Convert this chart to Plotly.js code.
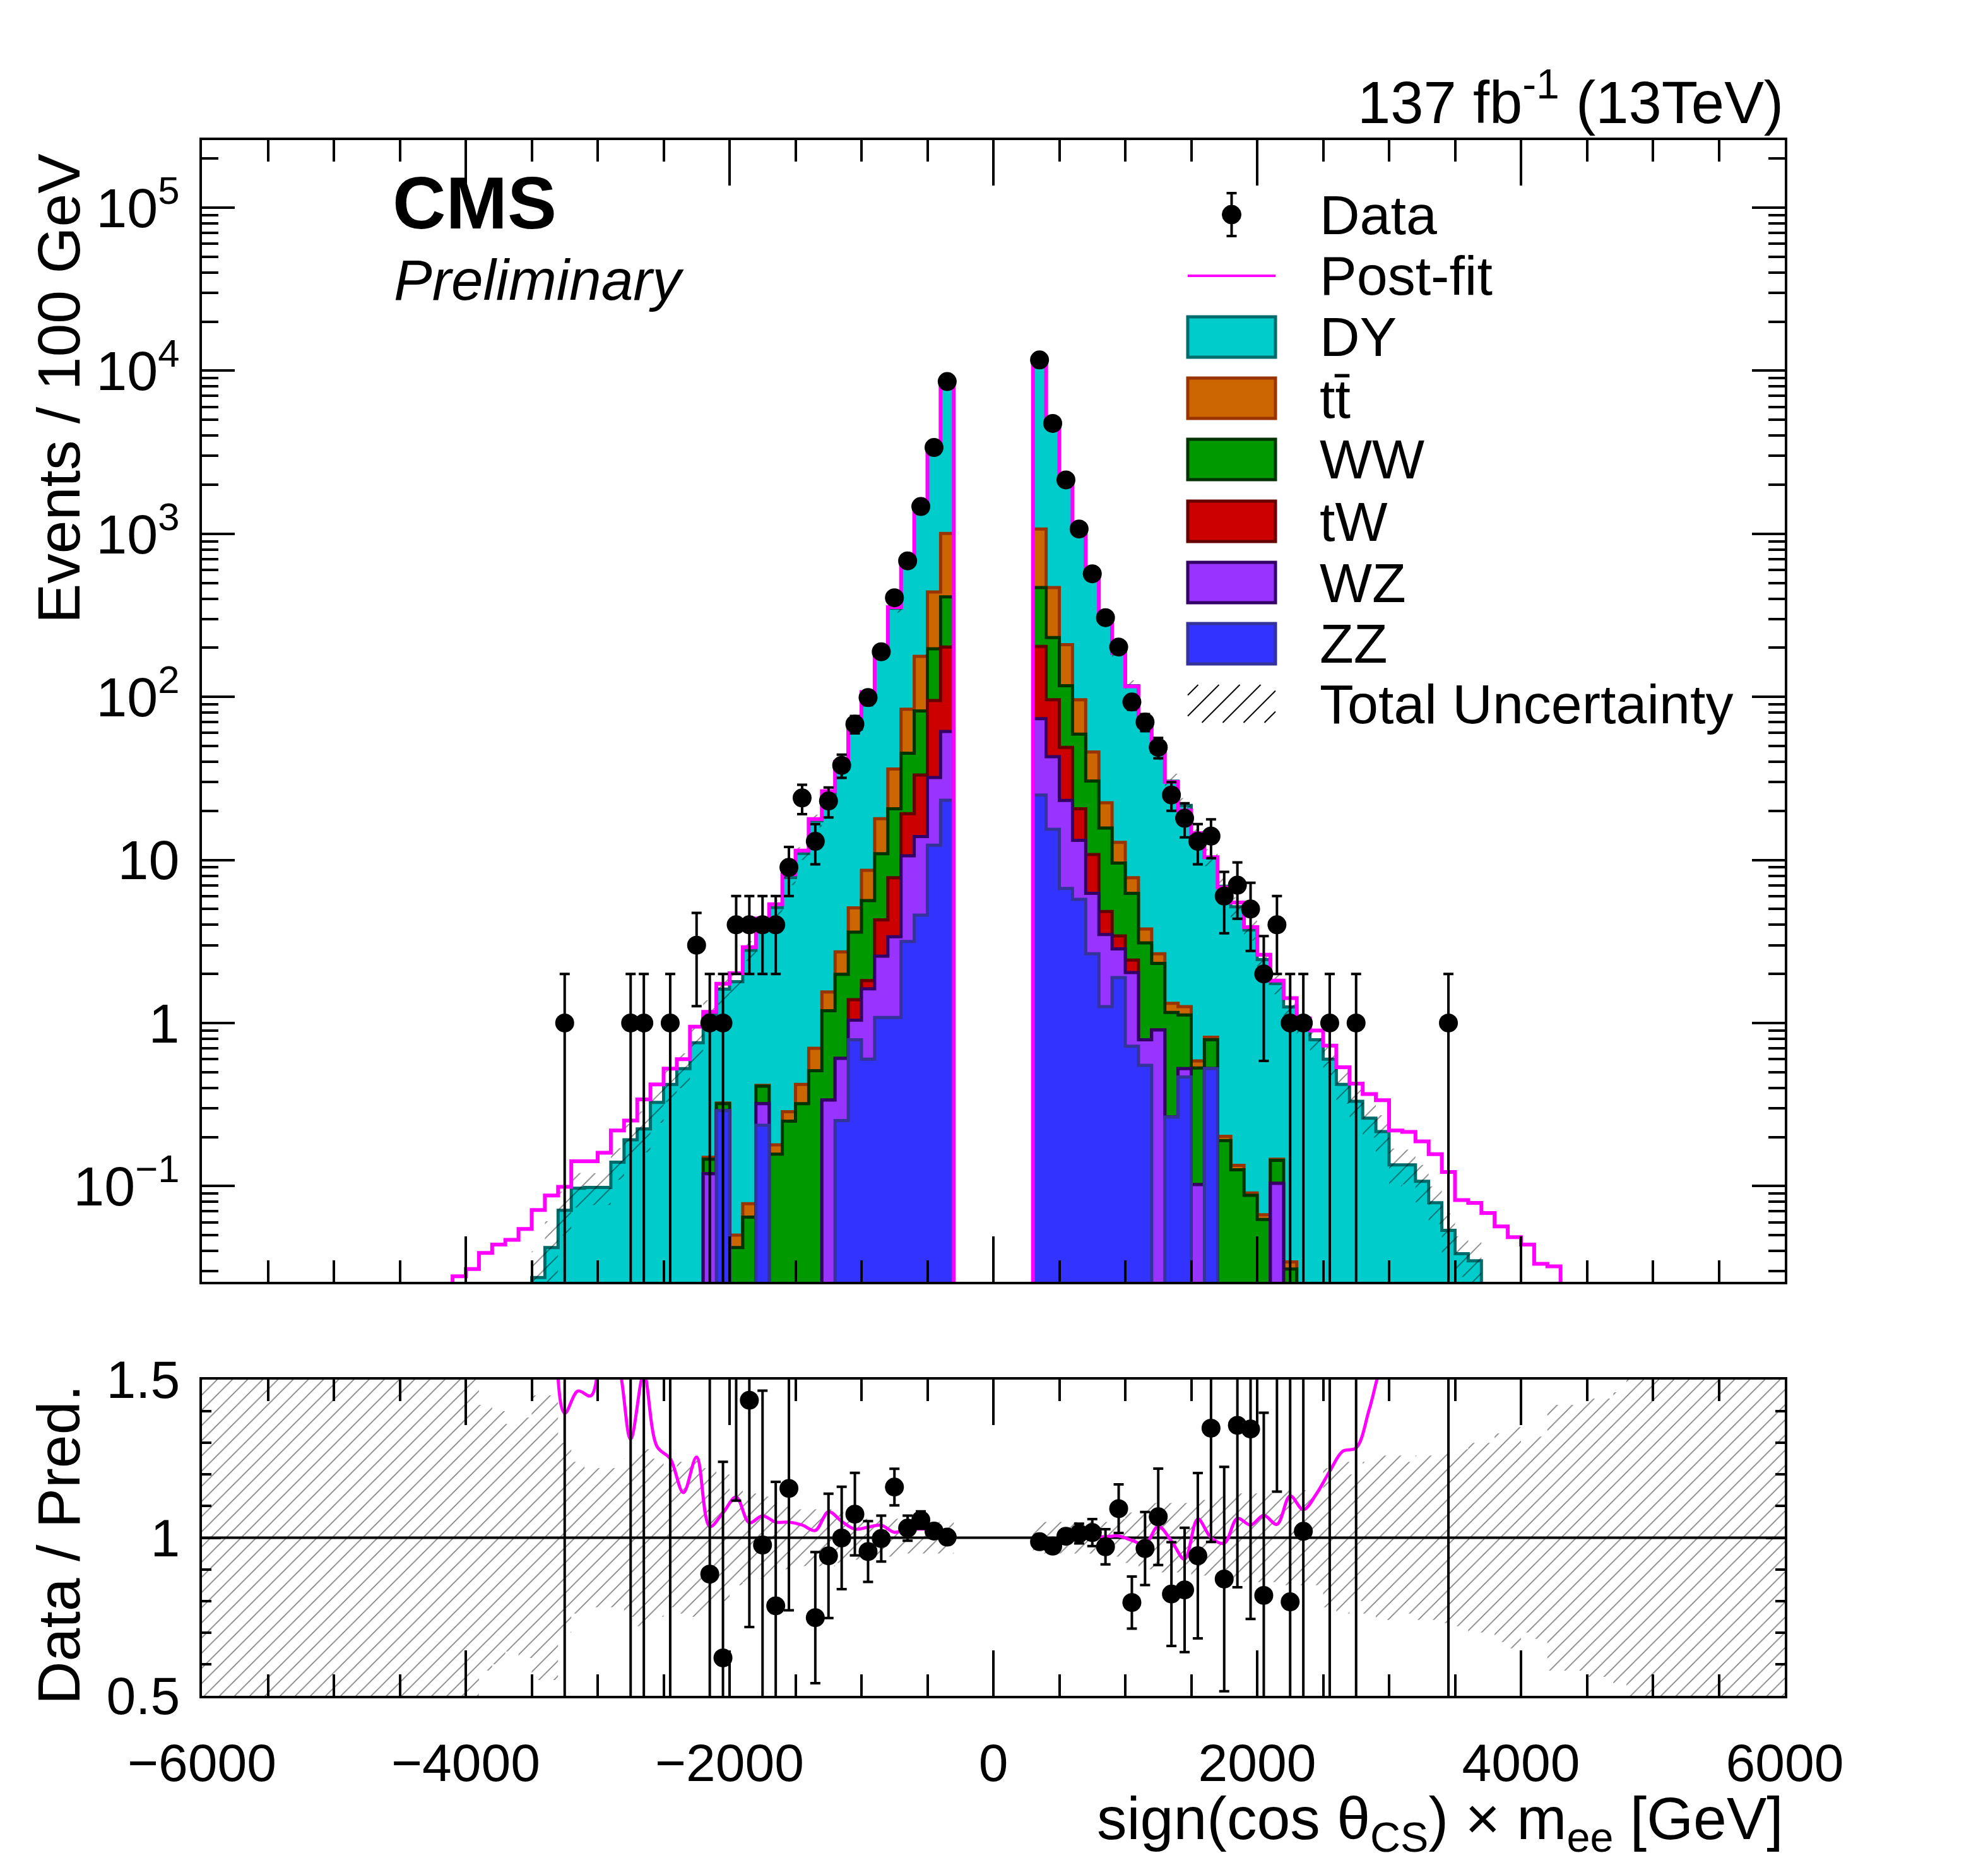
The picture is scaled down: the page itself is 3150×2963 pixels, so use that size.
<!DOCTYPE html>
<html>
<head>
<meta charset="utf-8">
<script src="https://cdn.plot.ly/plotly-3.0.1.min.js"></script>
<style>
    html, body { margin: 0; padding: 0; background: #ffffff; }
    #myDiv { width: 3150px; height: 2963px; }
</style>
</head>
<body>
<div id="myDiv"></div>
<script>
// histogram bins: 100 GeV wide, first edge at -4200 GeV (85 bins up to 4300)
var BIN_START = -4200;
var BIN_WIDTH = 100;

var dy = [
    0, 0, 0, 0, 0, 0, 0, 0.0275, 0.042, 0.071,
    0.097, 0.098, 0.098, 0.14, 0.192, 0.224, 0.326, 0.42, 0.525, 0.757,
    0.98, 1.29, 1.74, 2.71, 3.68, 4.92, 7.5, 10.54, 16.7, 22.85,
    35.3, 58.2, 94.9, 171.6, 313, 578, 1215, 2870, 7560, 0,
    0, 0, 0, 0, 0, 10720, 4412, 1921, 960, 513,
    292.6, 172.2, 109.2, 68.7, 43.3, 29.1, 20.3, 13.2, 9.58, 6.7,
    5.03, 3.63, 2.38, 1.6, 1.22, 0.98, 0.79, 0.6, 0.42, 0.331,
    0.261, 0.216, 0.135, 0.135, 0.107, 0.079, 0.0535, 0.0385, 0.0348, 0,
    0, 0, 0, 0, 0
];
var ttbar = [
    0, 0, 0, 0, 0, 0, 0, 0, 0, 0,
    0, 0, 0, 0, 0, 0, 0, 0, 0, 0,
    0.004, 0.003, 0.008, 0.0135, 0.005, 0.022, 0.036, 0.1, 0.19, 0.36,
    0.74, 1.47, 3.0, 7.0, 15.5, 38.9, 95, 243, 595, 0,
    0, 0, 0, 0, 0, 602, 237, 92, 37, 15.4,
    6.7, 3.24, 1.54, 0.67, 0.34, 0.16, 0.14, 0.055, 0.028, 0.012,
    0.008, 0.003, 0.0043, 0.002, 0.0033, 0, 0, 0, 0, 0,
    0, 0, 0, 0, 0, 0, 0, 0, 0, 0,
    0, 0, 0, 0, 0
];
var ww = [
    0, 0, 0, 0, 0, 0, 0, 0, 0, 0,
    0, 0, 0, 0, 0, 0, 0, 0, 0, 0,
    0.027, 0.03, 0.042, 0.0645, 0.09, 0.157, 0.25, 0.32, 0.51, 0.853,
    1.383, 2.22, 3.81, 6.61, 12.8, 25.9, 48.8, 102, 208, 0,
    0, 0, 0, 0, 0, 264, 135, 68, 38.4, 19.7,
    10.87, 6.14, 3.81, 2.31, 1.414, 0.895, 0.595, 0.428, 0.265, 0.19,
    0.126, 0.0877, 0.0624, 0.04, 0.031, 0, 0, 0, 0, 0,
    0, 0, 0, 0, 0, 0, 0, 0, 0, 0,
    0, 0, 0, 0, 0
];
var tw = [
    0, 0, 0, 0, 0, 0, 0, 0, 0, 0,
    0, 0, 0, 0, 0, 0, 0, 0, 0, 0,
    0, 0, 0, 0, 0, 0, 0, 0, 0, 0,
    0, 0.35, 0.2, 1.72, 4.4, 8.6, 19.3, 63, 140.6, 0,
    0, 0, 0, 0, 0, 130.5, 53.1, 25.8, 7.4, 4.56,
    1.34, 0.57, 0.39, 0, 0, 0, 0, 0, 0, 0,
    0, 0, 0, 0, 0, 0, 0, 0, 0, 0,
    0, 0, 0, 0, 0, 0, 0, 0, 0, 0,
    0, 0, 0, 0, 0
];
var wz = [
    0, 0, 0, 0, 0, 0, 0, 0, 0, 0,
    0, 0, 0, 0, 0, 0, 0, 0, 0, 0,
    0.119, 0, 0, 0, 0.084, 0, 0, 0, 0, 0.337,
    0.355, 0.25, 1.02, 1.49, 2.3, 7.44, 9.31, 19.7, 38.2, 0,
    0, 0, 0, 0, 0, 48.5, 27.5, 16.5, 7.47, 3.58,
    2.23, 0.95, 1.32, 0.24, 0.906, 0, 0.059, 0.102, 0, 0,
    0, 0, 0, 0.104, 0, 0, 0, 0, 0, 0,
    0, 0, 0, 0, 0, 0, 0, 0, 0, 0,
    0, 0, 0, 0, 0
];
var zz = [
    0, 0, 0, 0, 0, 0, 0, 0, 0, 0,
    0, 0, 0, 0, 0, 0, 0, 0, 0, 0,
    0, 0.29, 0, 0, 0.236, 0, 0, 0, 0, 0,
    0.252, 0.79, 0.6, 1.08, 1.08, 3.16, 4.59, 12.3, 23.2, 0,
    0, 0, 0, 0, 0, 25, 15.4, 6.68, 5.73, 2.66,
    1.26, 1.9, 0.72, 0.55, 0, 0.265, 0.466, 0, 0.525, 0,
    0, 0, 0, 0, 0, 0, 0, 0, 0, 0,
    0, 0, 0, 0, 0, 0, 0, 0, 0, 0,
    0, 0, 0, 0, 0
];
var postfit = [
    0, 0.028, 0.031, 0.0389, 0.0438, 0.0468, 0.0546, 0.0713, 0.0875, 0.099,
    0.142, 0.142, 0.16, 0.219, 0.252, 0.34, 0.42, 0.525, 0.6, 0.95,
    1.17, 1.74, 2.02, 2.92, 4.38, 5.35, 8.17, 11.4, 17.8, 26.4,
    40, 65, 107, 197, 355, 680, 1430, 3400, 8600, 0,
    0, 0, 0, 0, 0, 11640, 4846, 2140, 1058, 561,
    316, 186, 116, 71, 47.6, 30.1, 20.1, 14.6, 10.4, 6.78,
    5.48, 3.87, 2.62, 1.82, 1.42, 1.067, 0.9, 0.726, 0.535, 0.425,
    0.367, 0.336, 0.219, 0.215, 0.188, 0.157, 0.122, 0.082, 0.0789, 0.0684,
    0.0566, 0.0486, 0.0438, 0.0334, 0.0322
];
var dataCounts = [
    0, 0, 0, 0, 0, 0, 0, 0, 0, 1,
    0, 0, 0, 0, 1, 1, 0, 1, 0, 3,
    1, 1, 4, 4, 4, 4, 9, 24, 13, 23,
    38, 68, 99, 189, 405, 682, 1470, 3380, 8580, 0,
    0, 0, 0, 0, 0, 11640, 4750, 2140, 1070, 568,
    306, 202, 93, 70, 49, 25, 18, 13, 14, 6,
    7, 5, 2, 4, 1, 1, 0, 1, 0, 1,
    0, 0, 0, 0, 0, 0, 1, 0, 0, 0,
    0, 0, 0, 0, 0
];

// relative total uncertainty, 120 bins of 100 GeV from -6000 to 6000
var UNC_START = -6000;
var relUnc = [
    0.6, 0.6, 0.6, 0.6, 0.6, 0.6, 0.6, 0.6, 0.6, 0.6,
    0.6, 0.6, 0.6, 0.6, 0.6, 0.6, 0.6, 0.6, 0.6, 0.6,
    0.5, 0.42, 0.4, 0.36, 0.38, 0.45, 0.45, 0.3, 0.24, 0.22,
    0.22, 0.22, 0.25, 0.28, 0.25, 0.22, 0.24, 0.25, 0.22, 0.2,
    0.15, 0.14, 0.13, 0.11, 0.1, 0.09, 0.09, 0.09, 0.08, 0.07,
    0.06, 0.06, 0.06, 0.05, 0.05, 0.05, 0.05, 0, 0, 0,
    0, 0, 0, 0.05, 0.05, 0.05, 0.05, 0.05, 0.05, 0.06,
    0.08, 0.1, 0.11, 0.11, 0.11, 0.12, 0.12, 0.13, 0.14, 0.14,
    0.14, 0.14, 0.15, 0.15, 0.15, 0.22, 0.24, 0.2, 0.24, 0.26,
    0.26, 0.24, 0.26, 0.26, 0.27, 0.28, 0.3, 0.3, 0.33, 0.35,
    0.3, 0.32, 0.42, 0.42, 0.42, 0.44, 0.44, 0.46, 0.5, 0.6,
    0.6, 0.6, 0.6, 0.6, 0.6, 0.6, 0.6, 0.6, 0.6, 0.6
];

var LEGEND_LABELS = ['Data', 'Post-fit', 'DY', 'tt\u0304', 'WW', 'tW', 'WZ', 'ZZ', 'Total Uncertainty'];

var W = 3150, H = 2963;
var FLOOR = 1e-4;
var FONT = 'Liberation Sans, Arial, sans-serif';

function px(x) { return x / W; }
function py(y) { return 1 - y / H; }
function binLow(i) { return BIN_START + i * BIN_WIDTH; }
function binCenter(i) { return binLow(i) + BIN_WIDTH / 2; }

function stepLine(values) {
    var xs = [binLow(0)], ys = [FLOOR];
    for (var i = 0; i < values.length; i++) {
        xs.push(binLow(i));
        ys.push(values[i] > 0 ? values[i] : FLOOR);
    }
    var last = values[values.length - 1];
    xs.push(binLow(values.length));
    ys.push(last > 0 ? last : FLOOR);
    xs.push(binLow(values.length));
    ys.push(FLOOR);
    return {x: xs, y: ys};
}

function hatchBands(start, lower, upper, ok, xa, ya) {
    var traces = [];
    var i = 0;
    while (i < ok.length) {
        if (!ok[i]) { i++; continue; }
        var j = i;
        while (j + 1 < ok.length && ok[j + 1]) j++;
        var xs = [], ys = [];
        for (var b = i; b <= j; b++) {
            xs.push(start + b * BIN_WIDTH, start + (b + 1) * BIN_WIDTH);
            ys.push(upper[b], upper[b]);
        }
        for (var b2 = j; b2 >= i; b2--) {
            xs.push(start + (b2 + 1) * BIN_WIDTH, start + b2 * BIN_WIDTH);
            ys.push(lower[b2], lower[b2]);
        }
        xs.push(xs[0]);
        ys.push(ys[0]);
        traces.push({
            type: 'scatter', mode: 'lines', x: xs, y: ys,
            fill: 'toself', fillcolor: 'rgba(0,0,0,0)',
            fillpattern: {shape: '/', size: 17, solidity: 0.1, fgcolor: '#000000',
                          bgcolor: 'rgba(0,0,0,0)', fillmode: 'overlay'},
            line: {width: 0, color: 'rgba(0,0,0,0)'},
            xaxis: xa, yaxis: ya, hoverinfo: 'skip'
        });
        i = j + 1;
    }
    return traces;
}

// stacked processes, bottom to top
var processes = [
    {name: 'ZZ', values: zz, fill: '#3333ff', line: '#333399'},
    {name: 'WZ', values: wz, fill: '#9933ff', line: '#330066'},
    {name: 'tW', values: tw, fill: '#cc0000', line: '#660000'},
    {name: 'WW', values: ww, fill: '#009900', line: '#003300'},
    {name: 'ttbar', values: ttbar, fill: '#cc6600', line: '#993300'},
    {name: 'DY', values: dy, fill: '#00cccc', line: '#006b6b'}
];

var nBins = dy.length;
var cumulative = [];
var running = [];
for (var i = 0; i < nBins; i++) running.push(0);
for (var k = 0; k < processes.length; k++) {
    var next = [];
    for (var i = 0; i < nBins; i++) next.push(running[i] + processes[k].values[i]);
    cumulative.push(next);
    running = next;
}
var total = cumulative[cumulative.length - 1];

var data = [];

// draw from the tallest cumulative down, like THStack
for (var k = processes.length - 1; k >= 0; k--) {
    var s = stepLine(cumulative[k]);
    data.push({
        type: 'scatter', mode: 'lines', x: s.x, y: s.y,
        line: {shape: 'hv', color: processes[k].line, width: 5},
        fill: 'tozeroy', fillcolor: processes[k].fill,
        xaxis: 'x', yaxis: 'y', hoverinfo: 'skip', name: processes[k].name
    });
}

// uncertainty band on the stack
var uncOffset = (BIN_START - UNC_START) / BIN_WIDTH;
var bandLo = [], bandHi = [], bandOk = [];
for (var i = 0; i < nBins; i++) {
    var u = relUnc[i + uncOffset];
    bandHi.push(total[i] * (1 + u));
    bandLo.push(Math.max(total[i] * (1 - u), FLOOR));
    bandOk.push(total[i] > 0 && u > 0);
}
data = data.concat(hatchBands(BIN_START, bandLo, bandHi, bandOk, 'x', 'y'));

var pf = stepLine(postfit);
data.push({
    type: 'scatter', mode: 'lines', x: pf.x, y: pf.y,
    line: {shape: 'hv', color: '#ff00ff', width: 6},
    xaxis: 'x', yaxis: 'y', hoverinfo: 'skip', name: 'Post-fit'
});

var dx = [], dyv = [], derr = [];
var rx = [], ry = [], rerr = [];
var mx = [], my = [];
for (var i = 0; i < nBins; i++) {
    if (dataCounts[i] > 0) {
        dx.push(binCenter(i));
        dyv.push(dataCounts[i]);
        derr.push(Math.sqrt(dataCounts[i]));
        if (total[i] > 0) {
            rx.push(binCenter(i));
            ry.push(dataCounts[i] / total[i]);
            rerr.push(Math.sqrt(dataCounts[i]) / total[i]);
        }
    }
    mx.push(binCenter(i));
    my.push(total[i] > 0 ? postfit[i] / total[i] : null);
}

data.push({
    type: 'scatter', mode: 'markers', x: dx, y: dyv,
    marker: {color: '#000000', size: 30, symbol: 'circle'},
    error_y: {type: 'data', array: derr, visible: true, color: '#000000', thickness: 4, width: 8},
    xaxis: 'x', yaxis: 'y', hoverinfo: 'skip', name: 'Data'
});

// ratio panel
var rLo = [], rHi = [], rOk = [];
for (var i = 0; i < relUnc.length; i++) {
    rLo.push(1 - relUnc[i]);
    rHi.push(1 + relUnc[i]);
    rOk.push(relUnc[i] > 0);
}
data = data.concat(hatchBands(UNC_START, rLo, rHi, rOk, 'x2', 'y2'));

data.push({
    type: 'scatter', mode: 'lines', x: mx, y: my, connectgaps: false,
    line: {color: '#ff00ff', width: 5, shape: 'spline', smoothing: 1},
    xaxis: 'x2', yaxis: 'y2', hoverinfo: 'skip'
});
data.push({
    type: 'scatter', mode: 'markers', x: rx, y: ry,
    marker: {color: '#000000', size: 30, symbol: 'circle'},
    error_y: {type: 'data', array: rerr, visible: true, color: '#000000', thickness: 4, width: 8},
    xaxis: 'x2', yaxis: 'y2', hoverinfo: 'skip'
});

console.log('total stack in bin 350 GeV: ' + total[45]);

// axes
var PLOT_X = [px(320), px(2828)];
var TOP_Y = [py(2031), py(222)];
var RAT_Y = [py(2687), py(2186)];

var logMinor = [];
for (var e = -2; e <= 5; e++) {
    for (var m = 2; m <= 9; m++) logMinor.push(m * Math.pow(10, e));
}

function axisBase() {
    return {
        showline: true, linewidth: 4, linecolor: '#000000', mirror: 'allticks',
        ticks: 'inside', tickwidth: 4, tickcolor: '#000000',
        showgrid: false, zeroline: false, fixedrange: true
    };
}

var xTop = axisBase();
Object.assign(xTop, {
    domain: PLOT_X, range: [-6000, 6000], anchor: 'y',
    tickmode: 'array', tickvals: [-6000, -4000, -2000, 0, 2000, 4000, 6000],
    showticklabels: false, ticklen: 72,
    minor: {tickmode: 'linear', tick0: 0, dtick: 500, ticks: 'inside', ticklen: 34, tickwidth: 4, tickcolor: '#000000'}
});

var xBot = axisBase();
Object.assign(xBot, {
    domain: PLOT_X, range: [-6000, 6000], anchor: 'y2',
    tickmode: 'array', tickvals: [-6000, -4000, -2000, 0, 2000, 4000, 6000],
    ticktext: ['\u22126000', '\u22124000', '\u22122000', '0', '2000', '4000', '6000'],
    ticklen: 72, tickfont: {family: FONT, size: 84, color: '#000000'}, ticklabelstandoff: 30,
    minor: {tickmode: 'linear', tick0: 0, dtick: 500, ticks: 'inside', ticklen: 34, tickwidth: 4, tickcolor: '#000000'}
});

var yTop = axisBase();
Object.assign(yTop, {
    type: 'log', domain: TOP_Y, range: [-1.587, 5.414], anchor: 'x',
    tickmode: 'array', tickvals: [0.1, 1, 10, 100, 1000, 10000, 100000],
    ticktext: ['10<sup>\u22121</sup>', '1', '10', '10<sup>2</sup>', '10<sup>3</sup>', '10<sup>4</sup>', '10<sup>5</sup>'],
    ticklen: 52, tickfont: {family: FONT, size: 88, color: '#000000'}, ticklabelstandoff: 14,
    minor: {tickmode: 'array', tickvals: logMinor, ticks: 'inside', ticklen: 26, tickwidth: 4, tickcolor: '#000000'}
});

var yBot = axisBase();
Object.assign(yBot, {
    domain: RAT_Y, range: [0.5, 1.5], anchor: 'x2',
    tickmode: 'array', tickvals: [0.5, 1, 1.5], ticktext: ['0.5', '1', '1.5'],
    ticklen: 30, tickfont: {family: FONT, size: 84, color: '#000000'}, ticklabelstandoff: 14,
    minor: {tickmode: 'linear', tick0: 0.5, dtick: 0.1, ticks: 'inside', ticklen: 15, tickwidth: 4, tickcolor: '#000000'}
});

// legend drawn by hand, ROOT style
var shapes = [{
    type: 'line', xref: 'x2', yref: 'y2', x0: -6000, x1: 6000, y0: 1, y1: 1,
    line: {color: '#000000', width: 4}, layer: 'below'
}];
var annotations = [];

var LEG_X0 = 1882, LEG_X1 = 2021, LEG_TEXT_X = 2089;
var LEG_ROWS = [340, 437, 534, 631, 728, 826, 923, 1020, 1115];
var boxStyles = [null, null,
    processes[5], processes[4], processes[3], processes[2], processes[1], processes[0], null];

for (var r = 0; r < LEGEND_LABELS.length; r++) {
    var yc = LEG_ROWS[r];
    annotations.push({
        xref: 'paper', yref: 'paper', x: px(LEG_TEXT_X), y: py(yc),
        xanchor: 'left', yanchor: 'middle', showarrow: false,
        text: LEGEND_LABELS[r], font: {family: FONT, size: 88, color: '#000000'}
    });
    if (boxStyles[r]) {
        shapes.push({
            type: 'rect', xref: 'paper', yref: 'paper',
            x0: px(LEG_X0), x1: px(LEG_X1), y0: py(yc + 32), y1: py(yc - 32),
            fillcolor: boxStyles[r].fill, line: {color: boxStyles[r].line, width: 5}
        });
    }
}

// data entry: marker with error bar
var cx = (LEG_X0 + LEG_X1) / 2, cy = LEG_ROWS[0];
shapes.push({type: 'line', xref: 'paper', yref: 'paper', x0: px(cx), x1: px(cx), y0: py(cy + 34), y1: py(cy - 34), line: {color: '#000000', width: 4}});
shapes.push({type: 'line', xref: 'paper', yref: 'paper', x0: px(cx - 8), x1: px(cx + 8), y0: py(cy - 34), y1: py(cy - 34), line: {color: '#000000', width: 4}});
shapes.push({type: 'line', xref: 'paper', yref: 'paper', x0: px(cx - 8), x1: px(cx + 8), y0: py(cy + 34), y1: py(cy + 34), line: {color: '#000000', width: 4}});
shapes.push({type: 'circle', xref: 'paper', yref: 'paper', x0: px(cx - 15), x1: px(cx + 15), y0: py(cy + 15), y1: py(cy - 15), fillcolor: '#000000', line: {color: '#000000', width: 1}});

// post-fit entry
shapes.push({type: 'line', xref: 'paper', yref: 'paper', x0: px(LEG_X0), x1: px(LEG_X1), y0: py(LEG_ROWS[1]), y1: py(LEG_ROWS[1]), line: {color: '#ff00ff', width: 4}});

// uncertainty entry: hatch lines
function hatchLines(x0, y0, x1, y1, step) {
    var out = [];
    var h = y1 - y0;
    for (var c = x0 - h + step / 2; c < x1; c += step) {
        var ax = c, ay = y1, bx = c + h, by = y0;
        if (ax < x0) { ay -= (x0 - ax); ax = x0; }
        if (bx > x1) { by += (bx - x1); bx = x1; }
        if (bx - ax > 2) {
            out.push({type: 'line', xref: 'paper', yref: 'paper',
                      x0: px(ax), y0: py(ay), x1: px(bx), y1: py(by),
                      line: {color: '#000000', width: 2}});
        }
    }
    return out;
}
shapes = shapes.concat(hatchLines(LEG_X0, LEG_ROWS[8] - 30, LEG_X1, LEG_ROWS[8] + 30, 33));

annotations.push({
    xref: 'paper', yref: 'paper', x: px(620), y: py(322), xanchor: 'left', yanchor: 'middle',
    showarrow: false, text: '<b>CMS</b>', font: {family: FONT, size: 117, color: '#000000'}
});
annotations.push({
    xref: 'paper', yref: 'paper', x: px(622), y: py(444), xanchor: 'left', yanchor: 'middle',
    showarrow: false, text: '<i>Preliminary</i>', font: {family: FONT, size: 91, color: '#000000'}
});
annotations.push({
    xref: 'paper', yref: 'paper', x: px(2828), y: py(155), xanchor: 'right', yanchor: 'middle',
    showarrow: false, text: '137 fb<sup>-1</sup> (13TeV)', font: {family: FONT, size: 94, color: '#000000'}
});
annotations.push({
    xref: 'paper', yref: 'paper', x: px(93), y: py(616), xanchor: 'center', yanchor: 'middle',
    textangle: -90, showarrow: false, text: 'Events / 100 GeV', font: {family: FONT, size: 95, color: '#000000'}
});
annotations.push({
    xref: 'paper', yref: 'paper', x: px(93), y: py(2448), xanchor: 'center', yanchor: 'middle',
    textangle: -90, showarrow: false, text: 'Data / Pred.', font: {family: FONT, size: 95, color: '#000000'}
});
annotations.push({
    xref: 'paper', yref: 'paper', x: px(2828), y: py(2888), xanchor: 'right', yanchor: 'middle',
    showarrow: false, text: 'sign(cos \u03b8<sub>CS</sub>) \u00d7 m<sub>ee</sub> [GeV]',
    font: {family: FONT, size: 95, color: '#000000'}
});

var layout = {
    width: W, height: H,
    margin: {l: 0, r: 0, t: 0, b: 0},
    paper_bgcolor: '#ffffff', plot_bgcolor: '#ffffff',
    font: {family: FONT, color: '#000000'},
    showlegend: false,
    xaxis: xTop, yaxis: yTop, xaxis2: xBot, yaxis2: yBot,
    shapes: shapes, annotations: annotations
};

Plotly.newPlot('myDiv', data, layout, {staticPlot: true, displayModeBar: false});
</script>
</body>
</html>
